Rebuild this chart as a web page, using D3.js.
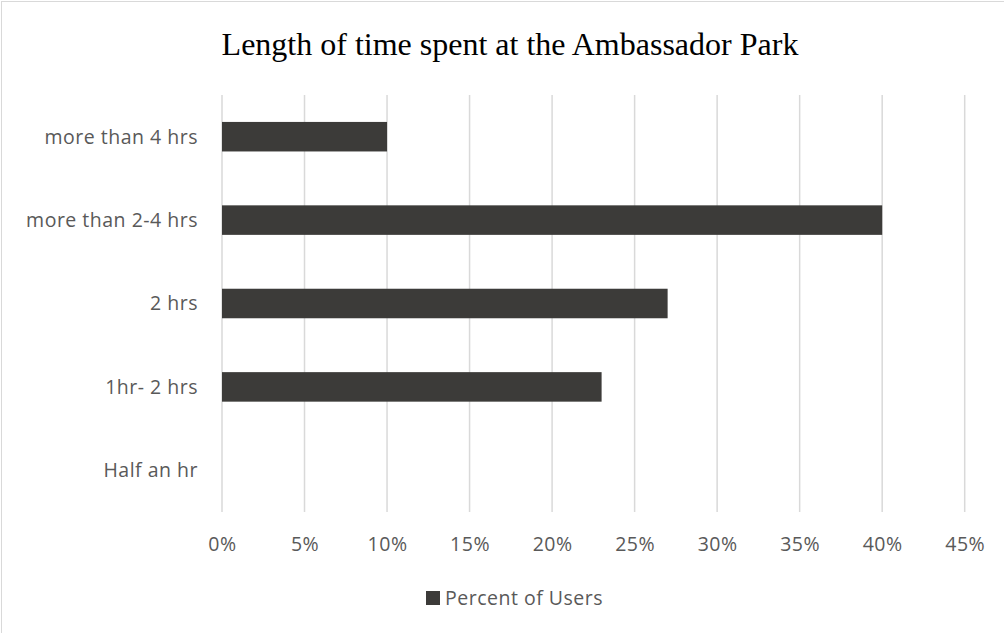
<!DOCTYPE html>
<html>
<head>
<meta charset="utf-8">
<script src="https://cdn.jsdelivr.net/npm/d3@7"></script>
<style>
  html, body { margin: 0; padding: 0; background: #fff; }
  svg { display: block; }
</style>
</head>
<body>
<svg id="chart" width="1004" height="633"></svg>
<script>
const title = "Length of time spent at the Ambassador Park";
const categories = ["more than 4 hrs", "more than 2-4 hrs", "2 hrs", "1hr- 2 hrs", "Half an hr"];
const values = [0.10, 0.40, 0.27, 0.23, 0];
const ticks = [0, 0.05, 0.10, 0.15, 0.20, 0.25, 0.30, 0.35, 0.40, 0.45];
const seriesName = "Percent of Users";

(function () {
const svg = d3.select("#chart");
const W = 1004, H = 633;
const pLeft = 222, pRight = 964.7, pTop = 95, pBottom = 512;
const barColor = "#3c3b39";
const textColor = "#595959";
const labelFont = "Open Sans, sans-serif";
const labelSize = "19.5px";
const spacing = "0.5px";

svg.append("rect").attr("width", W).attr("height", H).attr("fill", "#fff");
svg.append("rect").attr("x", 1.5).attr("y", 1.5).attr("width", W + 10).attr("height", H + 10)
  .attr("fill", "none").attr("stroke", "#d9d9d9").attr("stroke-width", 1);

const x = d3.scaleLinear().domain([0, 0.45]).range([pLeft, pRight]);
const y = d3.scaleBand().domain(categories).range([pTop, pBottom]).paddingInner(0.646).paddingOuter(0.323);

// gridlines
svg.append("g").selectAll("line").data(ticks).join("line")
  .attr("x1", d => x(d)).attr("x2", d => x(d))
  .attr("y1", pTop).attr("y2", pBottom)
  .attr("stroke", "#d9d9d9").attr("stroke-width", 1.5);

// bars
svg.append("g").selectAll("rect").data(categories).join("rect")
  .attr("x", x(0))
  .attr("y", d => y(d))
  .attr("width", (d, i) => x(values[i]) - x(0))
  .attr("height", y.bandwidth())
  .attr("fill", barColor);

// y axis labels
const yAxis = d3.axisLeft(y).tickSize(0).tickPadding(0);
const gy = svg.append("g").attr("transform", `translate(${pLeft - 24},0)`).call(yAxis);
gy.select(".domain").remove();
gy.selectAll("text").attr("fill", textColor).style("font-family", labelFont).style("font-size", labelSize)
  .style("letter-spacing", spacing).attr("dy", "0.35em");

// x axis labels
const xAxis = d3.axisBottom(x).tickValues(ticks).tickSize(0).tickPadding(0).tickFormat(d3.format(".0%"));
const gx = svg.append("g").attr("transform", `translate(0,${pBottom + 25})`).call(xAxis);
gx.select(".domain").remove();
gx.selectAll("text").attr("fill", textColor).style("font-family", labelFont).style("font-size", labelSize)
  .style("letter-spacing", spacing).attr("dy", "0.71em");

// title
svg.append("text").attr("x", 510).attr("y", 55).attr("text-anchor", "middle")
  .style("font-family", "Liberation Serif, Times New Roman, serif").style("font-size", "32px")
  .attr("fill", "#000").text(title);

// legend
svg.append("rect").attr("x", 426).attr("y", 591).attr("width", 14).attr("height", 14).attr("fill", barColor);
svg.append("text").attr("x", 445).attr("y", 605).attr("fill", textColor)
  .style("font-family", labelFont).style("font-size", labelSize).style("letter-spacing", spacing).text(seriesName);
})();
</script>
</body>
</html>
